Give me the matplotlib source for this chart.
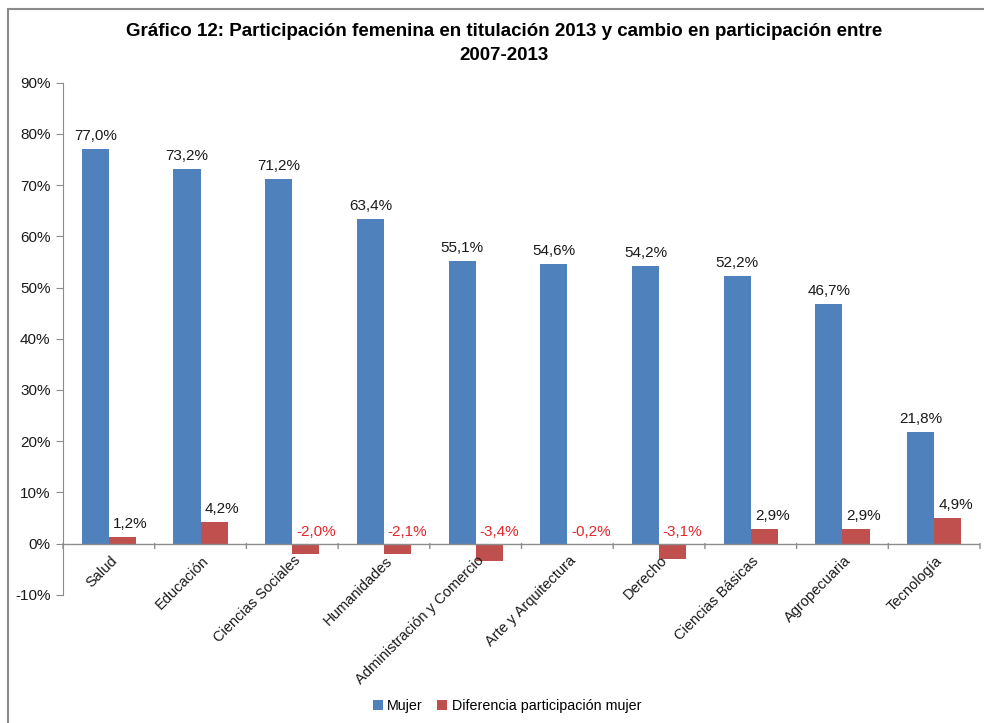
import matplotlib
matplotlib.use("Agg")
import matplotlib.pyplot as plt
import numpy as np
from matplotlib.patches import Rectangle

plt.rcParams['font.family'] = ['Liberation Sans', 'DejaVu Sans']

categories = ["Salud", "Educación", "Ciencias Sociales", "Humanidades",
              "Administración y Comercio", "Arte y Arquitectura", "Derecho",
              "Ciencias Básicas", "Agropecuaria", "Tecnología"]
mujer = [77.0, 73.2, 71.2, 63.4, 55.1, 54.6, 54.2, 52.2, 46.7, 21.8]
diferencia = [1.2, 4.2, -2.0, -2.1, -3.4, -0.2, -3.1, 2.9, 2.9, 4.9]
yticks = [-10, 0, 10, 20, 30, 40, 50, 60, 70, 80, 90]

BLUE = '#4F81BD'
RED = '#C0504D'
NEG = '#E3262B'
AXC = '#8C8C8C'
TXT = '#1a1a1a'

W, H = 984, 723
fig = plt.figure(figsize=(W / 100, H / 100), dpi=100)
ax = fig.add_axes([63 / W, 1 - 594.7 / H, (980 - 63) / W, (594.7 - 82.7) / H])

x = np.arange(len(categories))
bw = 0.295
ax.bar(x - bw / 2, mujer, bw, color=BLUE, label='Mujer', zorder=2)
ax.bar(x + bw / 2, diferencia, bw, color=RED, label='Diferencia participación mujer', zorder=2)

def fmt(v):
    return f"{v:.1f}%".replace('.', ',')

for xi, v in zip(x, mujer):
    ax.annotate(fmt(v), (xi - bw / 2, v), xytext=(0, 6), textcoords='offset pixels',
                ha='center', va='bottom', fontsize=11, color=TXT)
for xi, v in zip(x, diferencia):
    if v >= 0:
        ax.annotate(fmt(v), (xi + bw / 2, v), xytext=(8, 6), textcoords='offset pixels',
                    ha='center', va='bottom', fontsize=11, color=TXT)
    else:
        ax.annotate(fmt(v), (xi + bw / 2, 0), xytext=(10, 5), textcoords='offset pixels',
                    ha='center', va='bottom', fontsize=11, color=NEG)

ax.set_xlim(-0.5, len(categories) - 0.5)
ax.set_ylim(-10, 90)
ax.set_yticks(yticks)
ax.set_yticklabels([f"{t}%" for t in yticks], fontsize=11, color=TXT)
ax.tick_params(axis='y', direction='out', length=5, color=AXC, pad=4)

for s in ['top', 'right', 'bottom']:
    ax.spines[s].set_visible(False)
ax.spines['left'].set_color(AXC)
ax.axhline(0, color=AXC, lw=1, zorder=3)

ax.set_xticks([])
for b in np.arange(len(categories) + 1) - 0.5:
    ax.annotate('', xy=(b, 0), xytext=(0, -5), textcoords='offset pixels',
                arrowprops=dict(arrowstyle='-', color=AXC, lw=1, shrinkA=0, shrinkB=0))

for xi, c in zip(x, categories):
    ax.annotate(c, (xi, 0), xytext=(6, -15), textcoords='offset pixels',
                ha='right', va='center', rotation=45, rotation_mode='anchor',
                fontsize=10.5, color=TXT, annotation_clip=False)

fig.text(504 / W, 1 - 32 / H,
         "Gráfico 12: Participación femenina en titulación 2013 y cambio en participación entre",
         ha='center', va='center', fontsize=13.5, fontweight='bold')
fig.text(504 / W, 1 - 55 / H, "2007-2013",
         ha='center', va='center', fontsize=13.5, fontweight='bold')

fig.legend(loc='center', bbox_to_anchor=(507 / W, 1 - 706 / H), ncol=2, frameon=False,
           fontsize=10.3, handlelength=0.7, handleheight=0.7, handletextpad=0.3,
           columnspacing=1.0)

fig.patches.append(Rectangle((8 / W, -0.1), 1.2, 1 - 9 / H + 0.1, transform=fig.transFigure,
                             fill=False, edgecolor='#8a8a8a', lw=1.5, clip_on=False))

fig.savefig('out.png', dpi=100)
